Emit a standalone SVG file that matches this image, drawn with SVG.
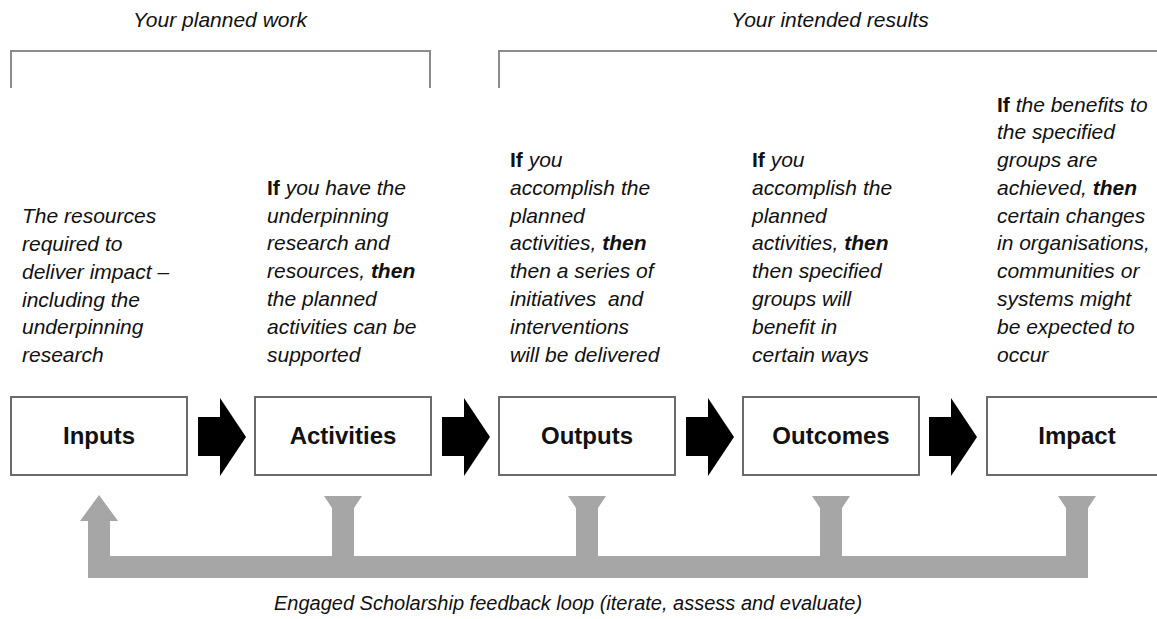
<svg xmlns="http://www.w3.org/2000/svg" width="1157" height="619" viewBox="0 0 1157 619">
<style>
.bg{fill:#ffffff}
.box{fill:#ffffff;stroke:#6b6b6b;stroke-width:2}
.lbl{font-family:"Liberation Sans",Arial,sans-serif;font-weight:bold;font-size:24px;fill:#111;text-anchor:middle}
.desc{font-family:"Liberation Sans",Arial,sans-serif;font-style:italic;font-size:21px;fill:#111}
.desc .b{font-weight:bold;font-style:normal}
.desc .bi{font-weight:bold}
.head{font-family:"Liberation Sans",Arial,sans-serif;font-style:italic;font-size:21px;fill:#111;text-anchor:middle}
.foot{font-family:"Liberation Sans",Arial,sans-serif;font-style:italic;font-size:20px;fill:#111;text-anchor:middle}
.brk{fill:none;stroke:#8c8c8c;stroke-width:2}
.flow{fill:#000}
.loop{fill:#a6a6a6}
</style>
<rect class="bg" x="0" y="0" width="1157" height="619"/>

<g id="header-planned">
<text class="head" x="220" y="27">Your planned work</text>
<path class="brk" d="M11,88 L11,51 L430,51 L430,88"/>
</g>
<g id="header-results">
<text class="head" x="830" y="27">Your intended results</text>
<path class="brk" d="M499,88 L499,51 L1157,51"/>
</g>

<g id="inputs">
<text class="desc" x="22">
<tspan x="22" y="223">The resources</tspan>
<tspan x="22" y="251">required to</tspan>
<tspan x="22" y="279">deliver impact –</tspan>
<tspan x="22" y="307">including the</tspan>
<tspan x="22" y="334">underpinning</tspan>
<tspan x="22" y="362">research</tspan>
</text>
<rect class="box" x="11" y="397" width="176" height="78"/>
<text class="lbl" x="99" y="444">Inputs</text>
</g>

<g id="activities">
<text class="desc">
<tspan x="267" y="195"><tspan class="b">If</tspan> you have the</tspan>
<tspan x="267" y="223">underpinning</tspan>
<tspan x="267" y="250">research and</tspan>
<tspan x="267" y="278">resources, <tspan class="bi">then</tspan></tspan>
<tspan x="267" y="306">the planned</tspan>
<tspan x="267" y="334">activities can be</tspan>
<tspan x="267" y="362">supported</tspan>
</text>
<rect class="box" x="255" y="397" width="176" height="78"/>
<text class="lbl" x="343" y="444">Activities</text>
</g>

<g id="outputs">
<text class="desc">
<tspan x="510" y="167"><tspan class="b">If</tspan> you</tspan>
<tspan x="510" y="195">accomplish the</tspan>
<tspan x="510" y="223">planned</tspan>
<tspan x="510" y="250">activities, <tspan class="bi">then</tspan></tspan>
<tspan x="510" y="278">then a series of</tspan>
<tspan x="510" y="306" xml:space="preserve">initiatives  and</tspan>
<tspan x="510" y="334">interventions</tspan>
<tspan x="510" y="362">will be delivered</tspan>
</text>
<rect class="box" x="499" y="397" width="176" height="78"/>
<text class="lbl" x="587" y="444">Outputs</text>
</g>

<g id="outcomes">
<text class="desc">
<tspan x="752" y="167"><tspan class="b">If</tspan> you</tspan>
<tspan x="752" y="195">accomplish the</tspan>
<tspan x="752" y="223">planned</tspan>
<tspan x="752" y="250">activities, <tspan class="bi">then</tspan></tspan>
<tspan x="752" y="278">then specified</tspan>
<tspan x="752" y="306">groups will</tspan>
<tspan x="752" y="334">benefit in</tspan>
<tspan x="752" y="362">certain ways</tspan>
</text>
<rect class="box" x="743" y="397" width="176" height="78"/>
<text class="lbl" x="831" y="444">Outcomes</text>
</g>

<g id="impact">
<text class="desc">
<tspan x="997" y="112"><tspan class="b">If</tspan> the benefits to</tspan>
<tspan x="997" y="139">the specified</tspan>
<tspan x="997" y="167">groups are</tspan>
<tspan x="997" y="195">achieved, <tspan class="bi">then</tspan></tspan>
<tspan x="997" y="223">certain changes</tspan>
<tspan x="997" y="250">in organisations,</tspan>
<tspan x="997" y="278">communities or</tspan>
<tspan x="997" y="306">systems might</tspan>
<tspan x="997" y="334">be expected to</tspan>
<tspan x="997" y="362">occur</tspan>
</text>
<rect class="box" x="987" y="397" width="180" height="78"/>
<text class="lbl" x="1077" y="444">Impact</text>
</g>

<g id="connectors">
<path class="flow" d="M198,417 L220,417 L220,398 L246,437 L220,476 L220,456 L198,456 Z"/>
<path class="flow" d="M442,417 L464,417 L464,398 L490,437 L464,476 L464,456 L442,456 Z"/>
<path class="flow" d="M686,417 L708,417 L708,398 L734,437 L708,476 L708,456 L686,456 Z"/>
<path class="flow" d="M929,417 L951,417 L951,398 L977,437 L951,476 L951,456 L929,456 Z"/>
<path class="loop" d="M88,578 L88,521 L80,521 L99,495 L118,521 L110,521 L110,556 L332,556 L332,508 L324,496 L362,496 L354,508 L354,556 L576,556 L576,508 L568,496 L606,496 L598,508 L598,556 L820,556 L820,508 L812,496 L850,496 L842,508 L842,556 L1066,556 L1066,508 L1058,496 L1096,496 L1088,508 L1088,578 Z"/>
</g>

<g id="loop-label">
<text class="foot" x="568" y="610">Engaged Scholarship feedback loop (iterate, assess and evaluate)</text>
</g>
</svg>
